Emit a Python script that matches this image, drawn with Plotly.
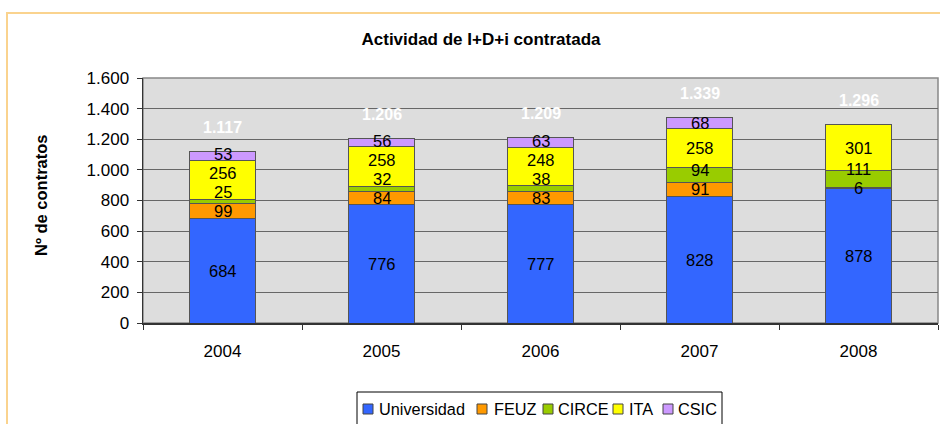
import plotly.graph_objects as go

years = ["2004", "2005", "2006", "2007", "2008"]
universidad = [684, 776, 777, 828, 878]
feuz = [99, 84, 83, 91, 6]
circe = [25, 32, 38, 94, 111]
ita = [256, 258, 248, 258, 301]
csic = [53, 56, 63, 68, 0]
totals = [1117, 1206, 1209, 1339, 1296]

names = ["Universidad", "FEUZ", "CIRCE", "ITA", "CSIC"]
values = [universidad, feuz, circe, ita, csic]
colors = ["#3366FF", "#FF9900", "#99CC00", "#FFFF00", "#CC99FF"]

FONT = "Liberation Sans, Arial, sans-serif"
L, R, T, B = 143, 2, 78, 101
W, H = 940, 424
PW, PH = W - L - R, H - T - B
YMAX = 1600


def px_x(p):
    return (p - L) / PW


def px_y(p):
    return (H - B - p) / PH


fig = go.Figure()
for name, vals, color in zip(names, values, colors):
    fig.add_trace(go.Bar(
        x=years, y=vals, name=name, showlegend=False,
        marker=dict(color=color, line=dict(color="#555555", width=1)),
    ))

# segment labels, centred on each segment and pushed apart when they collide
min_gap = 19 * YMAX / PH
for i, yr in enumerate(years):
    base = 0
    prev = None
    for vals in values:
        v = vals[i]
        if v:
            c = base + v / 2
            if prev is not None and c - prev < min_gap:
                c = prev + min_gap
            fig.add_annotation(x=i, y=c, text=str(v), showarrow=False, borderpad=0,
                               font=dict(family=FONT, size=16.5, color="black"))
            prev = c
        base += v

for i, t in enumerate(totals):
    fig.add_annotation(
        x=i, y=t, yshift=24, showarrow=False,
        text="<b>" + f"{t:,}".replace(",", ".") + "</b>",
        font=dict(family=FONT, size=16, color="white"),
    )

fig.add_annotation(
    xref="paper", yref="paper", x=px_x(41), y=px_y(195), xanchor="center", yanchor="middle",
    textangle=-90, showarrow=False,
    text="<b>Nº de contratos</b>", font=dict(family=FONT, size=16.5, color="black"),
)

# outer chart border
fig.add_shape(type="rect", xref="paper", yref="paper",
              x0=px_x(7), y0=px_y(460), x1=px_x(960), y1=px_y(13),
              line=dict(color="#FAD38E", width=2), layer="below")

# plot area border (top and right) in grey
fig.add_shape(type="rect", xref="paper", yref="paper", x0=0, y0=0, x1=1, y1=1,
              line=dict(color="#888888", width=1.5), layer="below")

# legend box
fig.add_shape(type="rect", xref="paper", yref="paper",
              x0=px_x(357), y0=px_y(440), x1=px_x(722), y1=px_y(392),
              line=dict(color="black", width=1), fillcolor="white")
sq_x = [363, 477, 543, 613, 663]
tx_x = [377, 492, 556, 627, 676]
for name, color, sx, tx in zip(names, colors, sq_x, tx_x):
    fig.add_shape(type="rect", xref="paper", yref="paper",
                  x0=px_x(sx), x1=px_x(sx + 10), y0=px_y(414), y1=px_y(404),
                  line=dict(color="#444444", width=1), fillcolor=color)
    fig.add_annotation(xref="paper", yref="paper", x=px_x(tx), y=px_y(409),
                       xanchor="left", yanchor="middle", showarrow=False,
                       text=name, font=dict(family=FONT, size=16.3, color="black"))

fig.update_layout(
    width=W, height=H,
    margin=dict(l=L, r=R, t=T, b=B, autoexpand=False),
    barmode="stack", bargap=0.59,
    separators=",.",
    paper_bgcolor="white", plot_bgcolor="#DDDDDD",
    font=dict(family=FONT, size=16, color="black"),
    title=dict(text="<b>Actividad de I+D+i contratada</b>", x=481 / W, xanchor="center",
               y=1 - 39 / H, yanchor="middle", font=dict(family=FONT, size=17, color="black")),
    showlegend=False,
)
fig.update_yaxes(range=[0, YMAX], dtick=200, tickformat=",d",
                 showgrid=True, gridcolor="#666666", gridwidth=1,
                 showline=True, linecolor="#333333", linewidth=1.5,
                 ticks="outside", ticklen=5, tickcolor="#333333",
                 zeroline=False, automargin=False, ticklabelstandoff=4,
                 tickfont=dict(family=FONT, size=17))
fig.update_xaxes(type="category", categoryorder="array", categoryarray=years,
                 range=[-0.5, len(years) - 0.5],
                 showline=True, linecolor="#333333", linewidth=1.5,
                 ticks="outside", ticklen=5, tickcolor="#333333", tickson="boundaries",
                 ticklabelstandoff=12,
                 showgrid=False, automargin=False,
                 tickfont=dict(family=FONT, size=17))

fig.write_html("out.html", include_plotlyjs=True, full_html=True,
               config={"displayModeBar": False, "staticPlot": True},
               post_script="document.body.style.margin='0';document.body.style.padding='0';")
